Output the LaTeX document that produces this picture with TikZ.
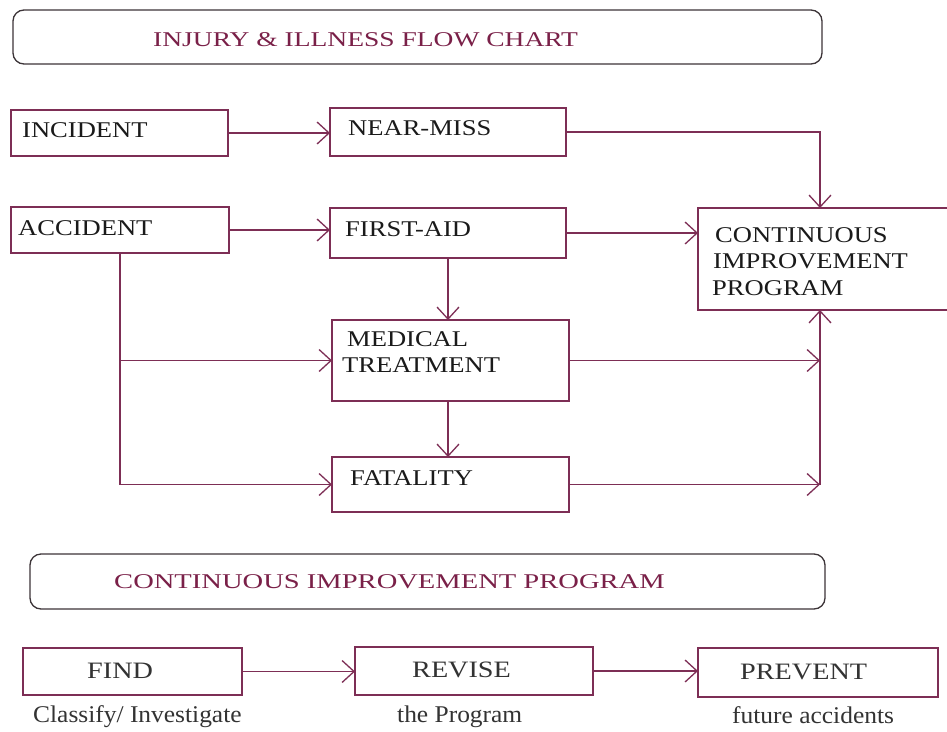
\documentclass[tikz,border=0pt]{standalone}
\usepackage{fontspec}
\setmainfont{Liberation Serif}
\newfontfamily\boxfont[FakeStretch=1.18]{Liberation Serif}
\newfontfamily\titlefont[FakeStretch=1.31]{Liberation Serif}
\newfontfamily\bannerfont[FakeStretch=1.36]{Liberation Serif}
\newfontfamily\stepfont[FakeStretch=1.2]{Liberation Serif}
\newfontfamily\capfont[FakeStretch=1.06]{Liberation Serif}
\usetikzlibrary{arrows.meta}
\definecolor{lnc}{HTML}{7D2E55}
\definecolor{titlec}{HTML}{7A2048}
\definecolor{txtc}{HTML}{1A1A1A}
\definecolor{capc}{HTML}{333333}
\definecolor{rbord}{HTML}{3C3438}
\begin{document}
\begin{tikzpicture}[x=1pt,y=-1pt,
  box/.style={draw=lnc, line width=1.5pt, inner sep=0pt, outer sep=0pt, anchor=north west},
  rbox/.style={draw=rbord, line width=1.3pt, rounded corners=11pt, inner sep=0pt, outer sep=0pt, anchor=north west},
  conn/.style={draw=lnc, line width=1.5pt},
  arr/.style={conn, -{Straight Barb[length=12pt,width=22pt,line width=1.3pt]}},
  lbl/.style={inner sep=0pt, anchor=base west, text=txtc, font=\boxfont\fontsize{22.5}{26.5}\selectfont},
  ttl/.style={inner sep=0pt, anchor=base west, text=titlec},
  steplbl/.style={inner sep=0pt, anchor=base west, text=capc, font=\stepfont\fontsize{23.5}{28}\selectfont},
  caplbl/.style={inner sep=0pt, anchor=base west, text=capc, font=\capfont\fontsize{24}{28}\selectfont},
  ]
\useasboundingbox[fill=white] (0,0) rectangle (947,731);

% boxes
\node[rbox, minimum width=809pt, minimum height=54pt] (title) at (13,10) {};
\node[box, minimum width=217pt, minimum height=46pt] (inc) at (11,110) {};
\node[box, minimum width=236pt, minimum height=48pt] (near) at (330,108) {};
\node[box, minimum width=218pt, minimum height=46pt] (acc) at (11,207) {};
\node[box, minimum width=236pt, minimum height=50pt] (first) at (330,208) {};
\node[box, minimum width=253pt, minimum height=102pt] (cip) at (698,208) {};
\node[box, minimum width=237pt, minimum height=81pt] (med) at (332,320) {};
\node[box, minimum width=237pt, minimum height=55pt] (fat) at (332,457) {};
\node[rbox, minimum width=795pt, minimum height=55pt] (banner) at (30,554) {};
\node[box, minimum width=219pt, minimum height=47pt] (find) at (23,648) {};
\node[box, minimum width=238pt, minimum height=48pt] (rev) at (355,647) {};
\node[box, minimum width=240pt, minimum height=49pt] (prev) at (698,648) {};

% texts
\node[ttl, font=\titlefont\fontsize{21}{25}\selectfont] (titleT) at (153,46) {INJURY \& ILLNESS FLOW CHART};
\node[lbl] (incT) at (22,137) {INCIDENT};
\node[lbl] (nearT) at (348,135) {NEAR-MISS};
\node[lbl] (accT) at (18,235) {ACCIDENT};
\node[lbl] (firstT) at (345,236) {FIRST-AID};
\node[lbl] (medT1) at (347,346) {MEDICAL};
\node[lbl] (medT2) at (342,372) {TREATMENT};
\node[lbl] (fatT) at (350,485) {FATALITY};
\node[lbl] (cipT1) at (715,242) {CONTINUOUS};
\node[lbl] (cipT2) at (713,268) {IMPROVEMENT};
\node[lbl] (cipT3) at (712,295) {PROGRAM};
\node[ttl, font=\bannerfont\fontsize{21}{25}\selectfont] (bannerT) at (114,588) {CONTINUOUS IMPROVEMENT PROGRAM};
\node[steplbl] (findT) at (87,678) {FIND};
\node[steplbl] (revT) at (412,677) {REVISE};
\node[steplbl] (prevT) at (740,679) {PREVENT};
\node[caplbl] (findC) at (33,722) {Classify/ Investigate};
\node[caplbl] (revC) at (397,722) {the Program};
\node[caplbl] (prevC) at (732,723) {future accidents};

% connectors
\coordinate (vx) at (820,400);
\draw[arr] (inc.east) -- (inc.east -| near.west);
\draw[arr] (near.east) -| (vx |- cip.north);
\draw[arr] (acc.east) -- (acc.east -| first.west);
\draw[arr] (first.east) -- (first.east -| cip.west);
\draw[arr] (first.south) -- (first.south |- med.north);
\draw[arr] (first.south |- med.south) -- (first.south |- fat.north);
\draw[arr] (acc.south) |- (fat.west);
\draw[arr] (acc.south |- med.west) -- (med.west);
\draw[arr] (med.east) -- (vx |- med.east);
\draw[arr] (fat.east) -- (vx |- fat.east);
\draw[arr] (vx |- fat.east) -- (vx |- cip.south);
\draw[arr] (find.east) -- (find.east -| rev.west);
\draw[arr] (rev.east) -- (rev.east -| prev.west);
\end{tikzpicture}
\end{document}
